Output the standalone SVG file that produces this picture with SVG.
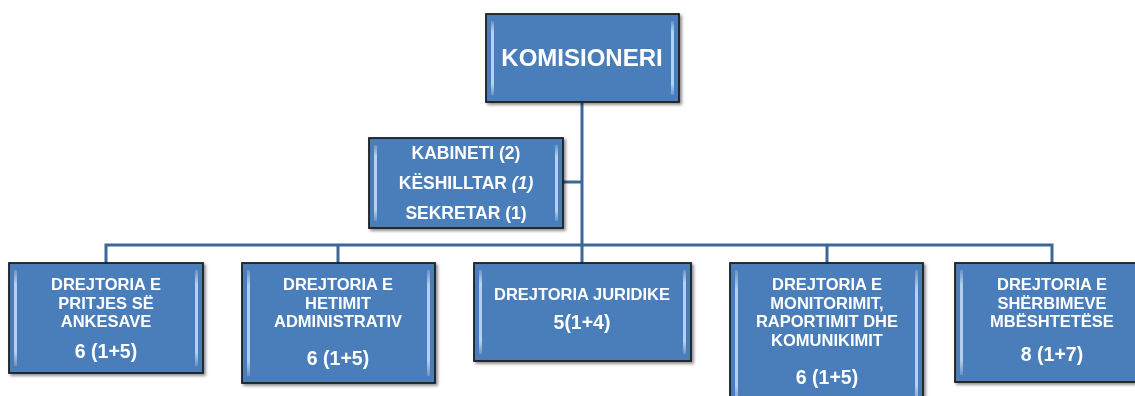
<svg xmlns="http://www.w3.org/2000/svg" width="1135" height="396" viewBox="0 0 1135 396">
<defs>
<linearGradient id="bev" x1="0" y1="0" x2="0" y2="1">
<stop offset="0" stop-color="#cfe3f7" stop-opacity="0.2"/>
<stop offset="0.15" stop-color="#b9d5f2" stop-opacity="0.95"/>
<stop offset="0.85" stop-color="#b9d5f2" stop-opacity="0.95"/>
<stop offset="1" stop-color="#cfe3f7" stop-opacity="0.2"/>
</linearGradient>
<filter id="sh" x="-10%" y="-10%" width="125%" height="130%">
<feGaussianBlur in="SourceAlpha" stdDeviation="1.5"/>
<feOffset dx="2" dy="2" result="b"/>
<feComponentTransfer><feFuncA type="linear" slope="0.45"/></feComponentTransfer>
<feMerge><feMergeNode/><feMergeNode in="SourceGraphic"/></feMerge>
</filter>
</defs>
<style>
.box{fill:#4a7ebb;stroke:#1e1e1e;stroke-width:1.8}
.bv{fill:url(#bev)}
.t{font-family:"Liberation Sans",Arial,sans-serif;font-weight:bold;fill:#ffffff;text-anchor:middle}
.tb{font-size:16.5px}
.tn{font-size:19.5px}
.tk{font-size:17.5px}
.tt{font-size:24px}
.c{stroke:#3d6798;stroke-width:3;fill:none}
</style>
<rect width="1135" height="396" fill="#ffffff"/>
<g id="connectors">
<path class="c" d="M582 102V245"/>
<path class="c" d="M563 182H582"/>
<path class="c" d="M106 263V245H1052V263"/>
<path class="c" d="M338 245V263"/>
<path class="c" d="M582 245V263"/>
<path class="c" d="M827 245V263"/>
</g>
<g id="komisioneri" filter="url(#sh)">
<rect class="box" x="486" y="14" width="193" height="88"/>
<rect class="bv" x="491" y="21" width="3" height="74"/>
<rect class="bv" x="671" y="21" width="3" height="74"/>
<text class="t tt" x="582" y="66">KOMISIONERI</text>
</g>
<g id="kabineti" filter="url(#sh)">
<rect class="box" x="369" y="138" width="194" height="90"/>
<rect class="bv" x="374" y="145" width="3" height="76"/>
<rect class="bv" x="555" y="145" width="3" height="76"/>
<text class="t tk" x="466" y="159">KABINETI (2)</text>
<text class="t tk" x="466" y="189">KËSHILLTAR <tspan font-style="italic">(1)</tspan></text>
<text class="t tk" x="466" y="219">SEKRETAR (1)</text>
</g>
<g id="pritjes" filter="url(#sh)">
<rect class="box" x="9" y="263" width="194" height="110"/>
<rect class="bv" x="14" y="270" width="3" height="96"/>
<rect class="bv" x="195" y="270" width="3" height="96"/>
<text class="t tb" x="106" y="290">DREJTORIA E</text>
<text class="t tb" x="106" y="308.5">PRITJES SË</text>
<text class="t tb" x="106" y="327">ANKESAVE</text>
<text class="t tn" x="106" y="358">6 (1+5)</text>
</g>
<g id="hetimit" filter="url(#sh)">
<rect class="box" x="242" y="263" width="193" height="120"/>
<rect class="bv" x="247" y="270" width="3" height="106"/>
<rect class="bv" x="427" y="270" width="3" height="106"/>
<text class="t tb" x="338" y="290">DREJTORIA E</text>
<text class="t tb" x="338" y="308.5">HETIMIT</text>
<text class="t tb" x="338" y="327">ADMINISTRATIV</text>
<text class="t tn" x="338" y="365">6 (1+5)</text>
</g>
<g id="juridike" filter="url(#sh)">
<rect class="box" x="474" y="263" width="217" height="98"/>
<rect class="bv" x="479" y="270" width="3" height="84"/>
<rect class="bv" x="683" y="270" width="3" height="84"/>
<text class="t tb" x="582" y="300">DREJTORIA JURIDIKE</text>
<text class="t tn" x="582" y="329">5(1+4)</text>
</g>
<g id="monitorimit" filter="url(#sh)">
<rect class="box" x="730" y="263" width="193" height="145"/>
<rect class="bv" x="735" y="270" width="3" height="135"/>
<rect class="bv" x="915" y="270" width="3" height="135"/>
<text class="t tb" x="827" y="290">DREJTORIA E</text>
<text class="t tb" x="827" y="308.5">MONITORIMIT,</text>
<text class="t tb" x="827" y="327">RAPORTIMIT DHE</text>
<text class="t tb" x="827" y="345.5">KOMUNIKIMIT</text>
<text class="t tn" x="827" y="384">6 (1+5)</text>
</g>
<g id="sherbimeve" filter="url(#sh)">
<rect class="box" x="955" y="263" width="194" height="119"/>
<rect class="bv" x="960" y="270" width="3" height="105"/>
<text class="t tb" x="1052" y="290">DREJTORIA E</text>
<text class="t tb" x="1052" y="308.5">SHËRBIMEVE</text>
<text class="t tb" x="1052" y="327">MBËSHTETËSE</text>
<text class="t tn" x="1052" y="361">8 (1+7)</text>
</g>
</svg>
